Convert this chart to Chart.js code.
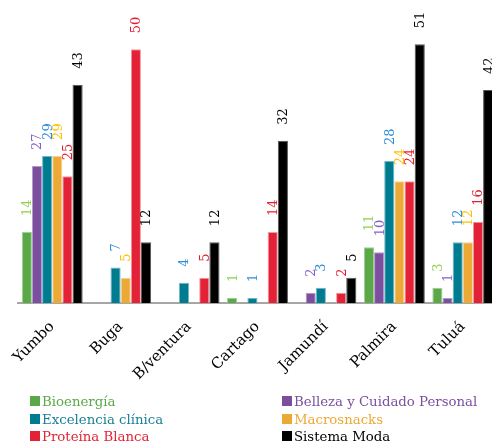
<!DOCTYPE html>
<html>
<head>
<meta charset="utf-8">
<script src="https://cdn.jsdelivr.net/npm/chart.js@4"></script>
<style>
  html, body { margin:0; padding:0; background:#fff; overflow:hidden; width:492px; height:445px; }
  #wrap { position:absolute; left:0; top:0; width:497px; height:393px; }
  #legend { position:absolute; left:0; top:0; width:492px; height:445px; pointer-events:none; font-family:'DejaVu Serif', serif; font-size:13.3px; }
  .li { position:absolute; white-space:nowrap; line-height:14px; }
  .sw { display:inline-block; width:10px; height:10px; margin-right:2px; vertical-align:-0px; }
</style>
</head>
<body>
<div id="wrap"><canvas id="c"></canvas></div>
<div id="legend"></div>
<script>
const categories = ['Yumbo', 'Buga', 'B/ventura', 'Cartago', 'Jamundí', 'Palmira', 'Tuluá'];
const seriesNames = ['Bioenergía', 'Belleza y Cuidado Personal', 'Excelencia clínica', 'Macrosnacks', 'Proteína Blanca', 'Sistema Moda'];
const bioenergia   = [14, null, null, 1, null, 11, 3];
const belleza      = [27, null, null, null, 2, 10, 1];
const excelencia   = [29, 7, 4, 1, 3, 28, 12];
const macrosnacks  = [29, 5, null, null, null, 24, 12];
const proteina     = [25, 50, 5, 14, 2, 24, 16];
const sistemaModa  = [43, 12, 12, 32, 5, 51, 42];
const seriesValues = [bioenergia, belleza, excelencia, macrosnacks, proteina, sistemaModa];

const barColors    = ['#5ba849', '#7b4f9e', '#007c91', '#eda935', '#e32237', '#000000'];
const borderColors = ['#9fd08f', '#b49ad0', '#6fb8c8', '#f6d39a', '#f29aa3', '#555555'];
const labelColors  = ['#92d050', '#8b5fc7', '#2e8ddb', '#ffc000', '#e21f2f', '#000000'];
const legendColors = ['#5ba849', '#7b4f9e', '#1a8098', '#eda935', '#e32237', '#000000'];

const labelPlugin = {
  id: 'rotLabels',
  afterDatasetsDraw(chart) {
    const ctx = chart.ctx;
    chart.data.datasets.forEach((ds, i) => {
      const meta = chart.getDatasetMeta(i);
      meta.data.forEach((el, j) => {
        const v = ds.data[j];
        if (v === null || v === undefined) return;
        ctx.save();
        ctx.translate(el.x + 1, el.y - 16);
        ctx.rotate(-Math.PI / 2);
        ctx.font = '13px "DejaVu Serif", serif';
        ctx.fillStyle = labelColors[i];
        ctx.textAlign = 'left';
        ctx.textBaseline = 'middle';
        ctx.fillText(String(v), 0, 0);
        ctx.restore();
      });
    });
  }
};

new Chart(document.getElementById('c'), {
  type: 'bar',
  data: {
    labels: categories,
    datasets: seriesNames.map((n, i) => ({
      label: n,
      data: seriesValues[i],
      backgroundColor: barColors[i],
      borderColor: borderColors[i],
      borderWidth: 1,
      categoryPercentage: 0.89,
      barPercentage: 1.0
    }))
  },
  options: {
    responsive: true,
    maintainAspectRatio: false,
    animation: false,
    layout: { padding: { top: 24, left: 15, right: 0, bottom: 0 } },
    plugins: { legend: { display: false }, tooltip: { enabled: false } },
    scales: {
      y: { display: false, min: 0, max: 55 },
      x: {
        grid: { display: false, drawTicks: false },
        border: { display: true, color: '#a6a6a6', width: 2 },
        ticks: {
          color: '#000',
          font: { family: 'DejaVu Serif', size: 15 },
          minRotation: 45, maxRotation: 45,
          padding: 15
        },
        afterFit(scale) { scale.height = 90; }
      }
    }
  },
  plugins: [labelPlugin]
});

// legend
const legendPos = [[30, 397], [282, 397], [30, 415], [282, 415], [30, 432], [282, 432]];
const lg = document.getElementById('legend');
seriesNames.forEach((n, i) => {
  const d = document.createElement('div');
  d.className = 'li';
  d.style.left = legendPos[i][0] + 'px';
  d.style.top = (legendPos[i][1] - 2) + 'px';
  d.style.color = legendColors[i];
  const s = document.createElement('span');
  s.className = 'sw';
  s.style.background = barColors[i];
  d.appendChild(s);
  d.appendChild(document.createTextNode(n));
  lg.appendChild(d);
});
</script>
</body>
</html>
